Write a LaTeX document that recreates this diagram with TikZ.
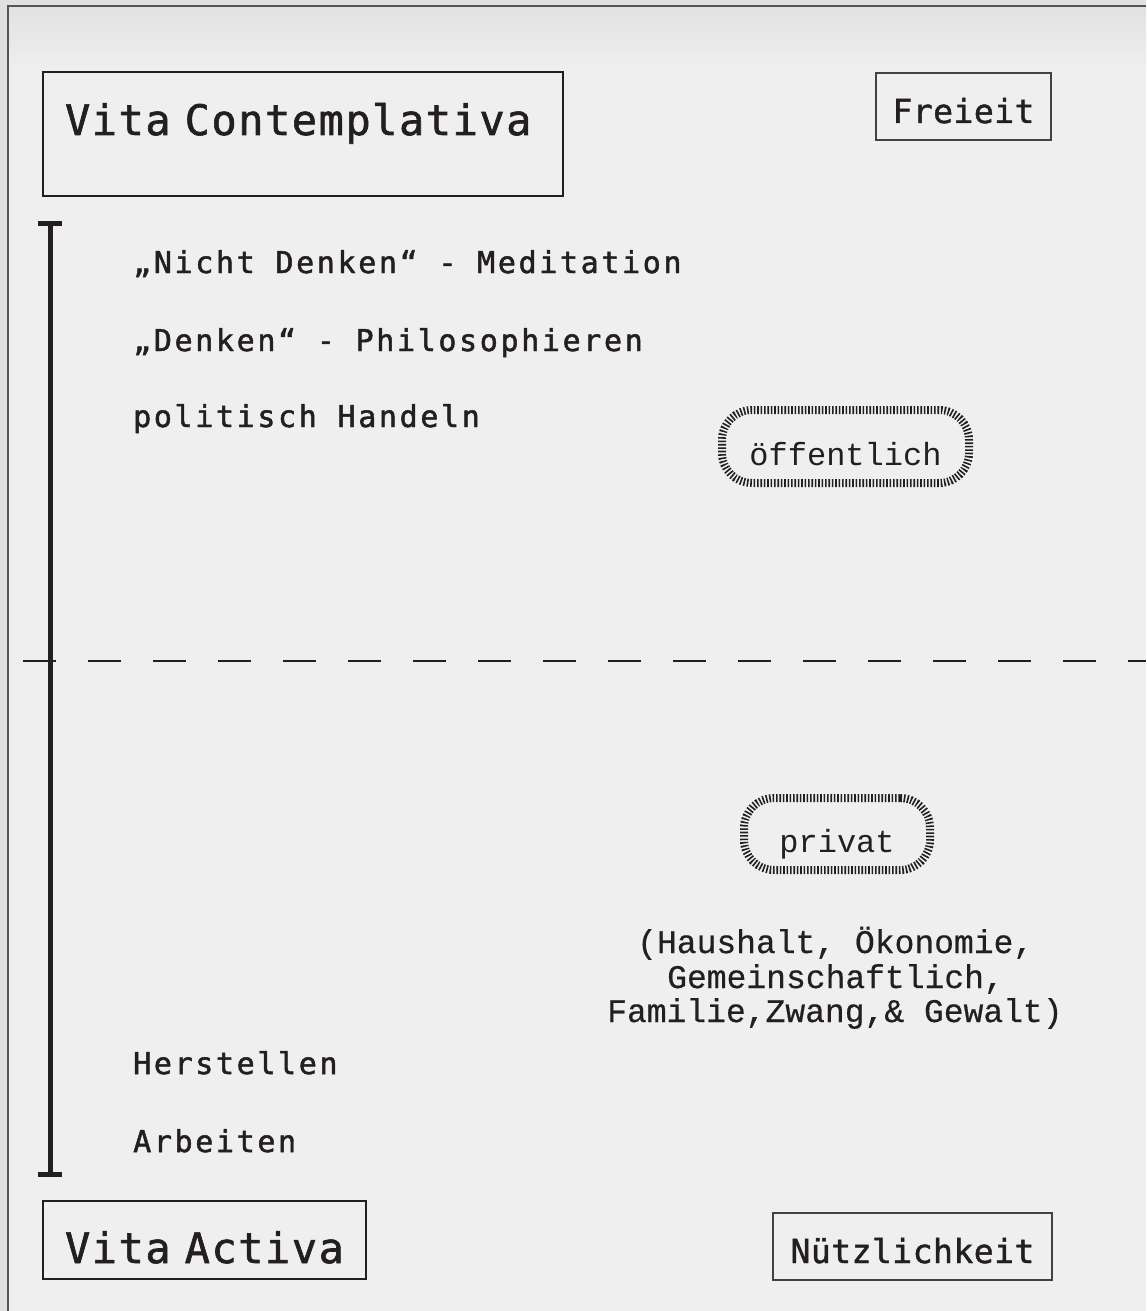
\documentclass[tikz,border=0pt]{standalone}
\usepackage{fontspec}
\setmainfont{DejaVu Sans}
\newfontfamily\monoA{DejaVu Sans Mono}
\newfontfamily\monoL{Liberation Mono}
\definecolor{ink}{HTML}{231F20}
\definecolor{frameink}{HTML}{555555}
\definecolor{paper}{HTML}{EFEFEF}
\definecolor{paperdark}{HTML}{E0E0E0}
\usetikzlibrary{calc}
\tikzset{
  itemtext/.style={anchor=base west, inner sep=0pt, text=ink,
    font=\monoA\addfontfeature{LetterSpace=8.8,FakeBold=1.6}\fontsize{30}{36}\selectfont},
  parentext/.style={anchor=base west, inner sep=0pt, text=ink,
    font=\monoL\addfontfeature{FakeBold=0.5}\fontsize{33}{36}\selectfont},
  titlebox/.style={draw=ink, line width=2.4pt, inner ysep=0pt, inner xsep=22pt,
    align=left, text=ink,
    font=\monoA\addfontfeature{LetterSpace=3.6,FakeBold=1.4}\fontsize{42}{48}\selectfont},
  valuebox/.style={draw=ink!85, line width=1.6pt, inner sep=0pt, text=ink,
    text height=33pt, text depth=0pt,
    font=\monoA\addfontfeature{LetterSpace=1.5,FakeBold=1.4}\fontsize{33}{38}\selectfont},
  pill/.style={draw=ink, line width=8pt, dash pattern=on 1.6pt off 1.8pt,
    rounded corners=30pt, inner sep=0pt, text=ink,
    text height=37pt, text depth=0pt,
    font=\monoL\fontsize{32}{40}\selectfont},
  bracketline/.style={draw=ink, line width=5pt},
  divider/.style={draw=ink, line width=2.6pt, dash pattern=on 33pt off 32pt},
  frameline/.style={draw=frameink, line width=1.8pt}
}
\begin{document}
\begin{tikzpicture}[x=1pt,y=-1pt]
\useasboundingbox (0,0) rectangle (1146,1311);
% paper
\fill[paper] (0,0) rectangle (1146,1311);
\fill[paperdark] (0,0) rectangle (8,1311);
\shade[top color=paperdark, bottom color=paper] (8,0) rectangle (1146,70);
% outer frame (top and left edges)
\coordinate (ftl) at (8,6);
\coordinate (ftr) at (1146,6);
\coordinate (fbl) at (8,1311);
\draw[frameline] (ftr) -- (ftl) -- (fbl);

% title boxes
\node[titlebox, text width=476pt, minimum height=124pt, text height=31pt, text depth=29pt]
  (vc) at (303,134) {Vita Contemplativa};
\node[titlebox, text width=279pt, minimum height=78pt, text height=46pt, text depth=0pt]
  (va) at (204.5,1240) {Vita Activa};

% value boxes
\node[valuebox, minimum width=175pt, minimum height=67pt] (frei) at (963.5,106.5) {Freieit};
\node[valuebox, minimum width=279pt, minimum height=67pt] (nutz) at (912.5,1246.5) {Nützlichkeit};

% bracket
\coordinate (bt) at (50,223);
\coordinate (bb) at (50,1174);
\draw[bracketline] (bt) -- (bb);
\draw[bracketline] ($(bt)+(-12,0)$) -- ($(bt)+(12,0)$);
\draw[bracketline] ($(bb)+(-12,0)$) -- ($(bb)+(12,0)$);

% divider
\coordinate (dl) at (23,661);
\coordinate (dr) at (1146,661);
\draw[divider] (dl) -- (dr);

% activities
\node[itemtext] (med) at (133,273) {„Nicht Denken“ - Meditation};
\node[itemtext] (phil) at (133,351) {„Denken“ - Philosophieren};
\node[itemtext] (pol) at (133,427) {politisch Handeln};
\node[itemtext] (her) at (133,1074) {Herstellen};
\node[itemtext] (arb) at (133,1152) {Arbeiten};

% spheres
\node[pill, minimum width=247pt, minimum height=73pt] (oeff) at (845.5,446.5) {öffentlich};
\node[pill, minimum width=186pt, minimum height=72pt] (priv) at (837,834) {privat};

% private sphere details
\node[parentext] (p1) at (637,953) {(Haushalt, Ökonomie,};
\node[parentext] (p2) at (667,988) {Gemeinschaftlich,};
\node[parentext] (p3) at (607,1022) {Familie,Zwang,\& Gewalt)};
\end{tikzpicture}
\end{document}
